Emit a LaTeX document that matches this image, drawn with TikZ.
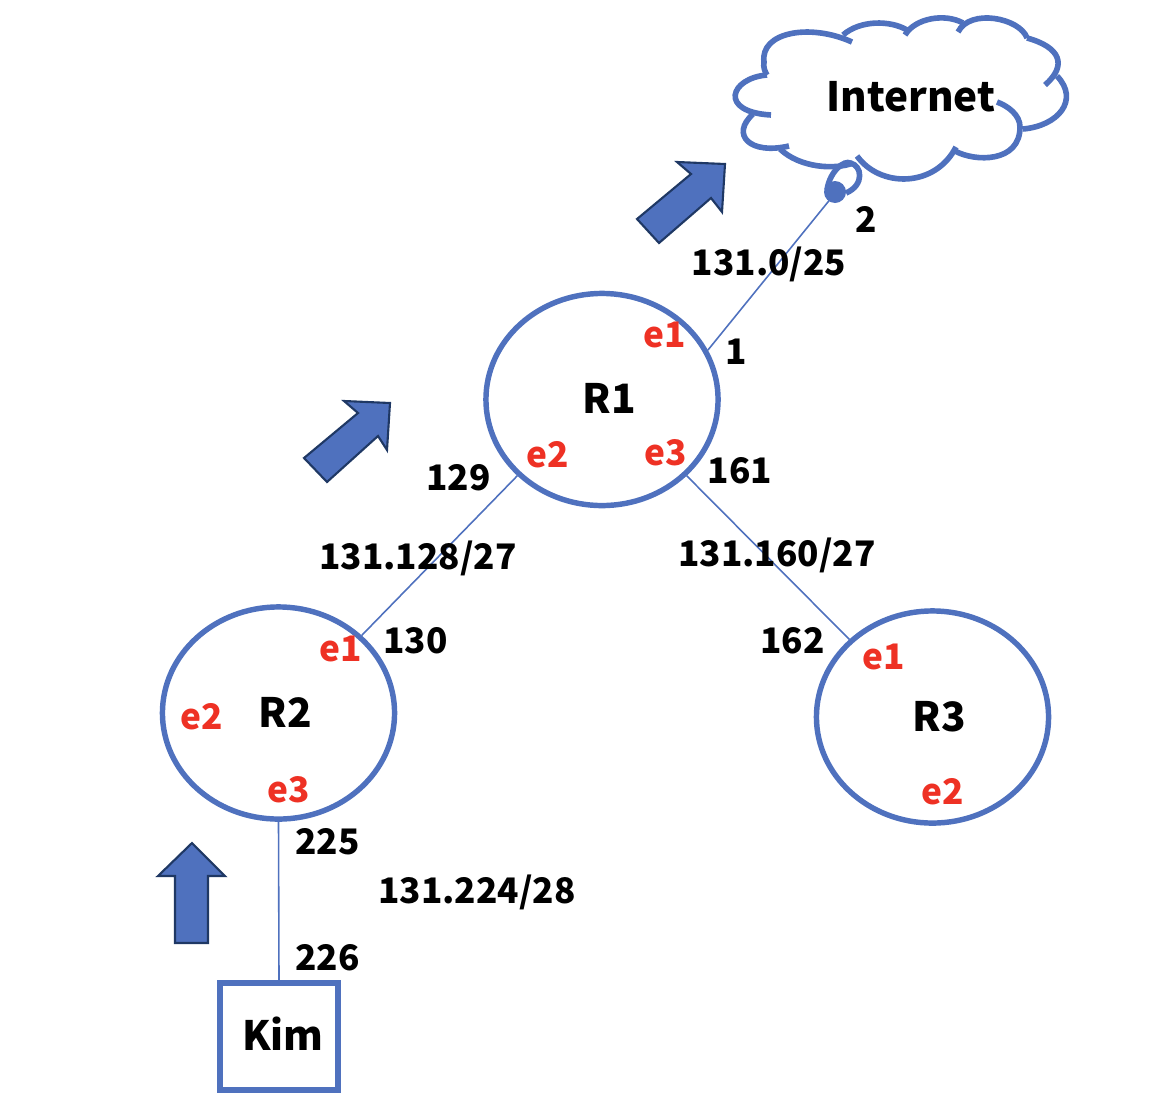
\documentclass[tikz,border=0pt]{standalone}
\usepackage{fontspec}
\setmainfont{Noto Sans CJK JP}
\usepackage{xcolor}
\usetikzlibrary{shapes.geometric}
\definecolor{netblue}{RGB}{79,113,190}
\definecolor{darkblue}{RGB}{31,56,100}
\definecolor{portred}{RGB}{238,49,36}

\begin{document}
\begin{tikzpicture}[
    x=0.01cm, y=-0.01cm,
    router/.style={ellipse, draw=netblue, line width=1.55pt, minimum width=2.32cm, minimum height=2.12cm, inner sep=0pt},
    hostbox/.style={rectangle, draw=netblue, line width=1.7pt, minimum width=1.17cm, minimum height=1.07cm, inner sep=0pt},
    link/.style={draw=netblue, line width=0.45pt},
    cloudline/.style={draw=netblue, line width=1.6pt},
    flow/.style={draw=darkblue, line width=0.6pt, fill=netblue},
    title/.style={font=\fontsize{11.5}{13}\selectfont\bfseries, inner sep=0pt},
    addr/.style={font=\fontsize{10}{12}\selectfont\bfseries, inner sep=0pt},
    port/.style={font=\fontsize{10}{12}\selectfont\bfseries, text=portred, inner sep=0pt}
]
\useasboundingbox (0,0) rectangle (1164,1112);

% Routers and host
\node[router] (r1) at (602,399.5) {};
\node[router] (r2) at (278.5,713) {};
\node[router] (r3) at (932.5,717) {};
\node[hostbox] (kim) at (279,1036.5) {};
\coordinate (cloudtail) at (832,197);

% Links
\draw[link] (r1.25) -- (cloudtail);
\draw[link] (r1.222) -- (r2.43);
\draw[link] (r1.-42) -- (r3.137.5);
\draw[link] (r2.south) -- (kim.north);

% Cloud
\draw[cloudline] (767,75) .. controls (730,78) and (718,112) .. (771,115);
\draw[cloudline] (753,114) .. controls (730,135) and (750,155) .. (789,146);
\draw[cloudline] (780,149) .. controls (800,168) and (835,170) .. (853,163);
\draw[cloudline] (857,156) .. controls (880,188) and (935,188) .. (956,147);
\draw[cloudline] (955,151) .. controls (975,162) and (1020,163) .. (1020,127) .. controls (1020,115) and (1008,106) .. (997,102);
\draw[cloudline] (1023,129) .. controls (1058,126) and (1080,100) .. (1057,76);
\draw[cloudline] (1045,85) .. controls (1068,65) and (1060,47) .. (1027,38);
\draw[cloudline] (1027,38) .. controls (1020,18) and (970,8) .. (958,32);
\draw[cloudline] (963,23) .. controls (945,13) and (915,18) .. (905,35);
\draw[cloudline] (907,30) .. controls (890,20) and (860,20) .. (843,35);
\draw[cloudline] (852,42) .. controls (810,23) and (760,32) .. (764,62) .. controls (763,67) and (765,72) .. (767,75);
\draw[cloudline] (827,190) .. controls (830,170) and (845,160) .. (850,163) .. controls (862,165) and (865,185) .. (846,193);
\fill[netblue] (835,192) circle (11);

% Traffic arrows
\draw[flow] (725,164) -- (677,162) -- (691,174) -- (637,219) -- (659,243) -- (711,198) -- (722,212) -- cycle;
\draw[flow] (390,403) -- (344,401) -- (358,413) -- (304,458) -- (327,482) -- (378,436) -- (387,450) -- cycle;
\draw[flow] (192,843) -- (158,876) -- (175,876) -- (175,943) -- (208,943) -- (208,876) -- (225,876) -- cycle;

% Names
\node[title] (inet) at (911,97) {Internet};
\node[title] (r1name) at (609,398) {R1};
\node[title] (r2name) at (285,712) {R2};
\node[title] (r3name) at (939,717) {R3};
\node[title] (kimname) at (283,1034) {Kim};

% Addresses
\node[addr] (a2) at (866,219) {2};
\node[addr] (n0) at (769,264) {131.0/25};
\node[addr] (a1) at (736,352) {1};
\node[addr] (a129) at (458.5,478) {129};
\node[addr] (a161) at (740,471) {161};
\node[addr] (n128) at (418,558) {131.128/27};
\node[addr] (n160) at (777,555) {131.160/27};
\node[addr] (a130) at (415.5,641) {130};
\node[addr] (a162) at (792.5,641) {162};
\node[addr] (a225) at (327.5,842) {225};
\node[addr] (n224) at (477,892) {131.224/28};
\node[addr] (a226) at (327.5,958) {226};

% Ports
\node[port] (r1e1) at (665,335) {e1};
\node[port] (r1e2) at (547.5,455) {e2};
\node[port] (r1e3) at (665.5,453) {e3};
\node[port] (r2e1) at (340.5,649) {e1};
\node[port] (r2e2) at (202,717) {e2};
\node[port] (r2e3) at (288.5,790) {e3};
\node[port] (r3e1) at (883.5,657) {e1};
\node[port] (r3e2) at (942.5,792) {e2};

\end{tikzpicture}
\end{document}
